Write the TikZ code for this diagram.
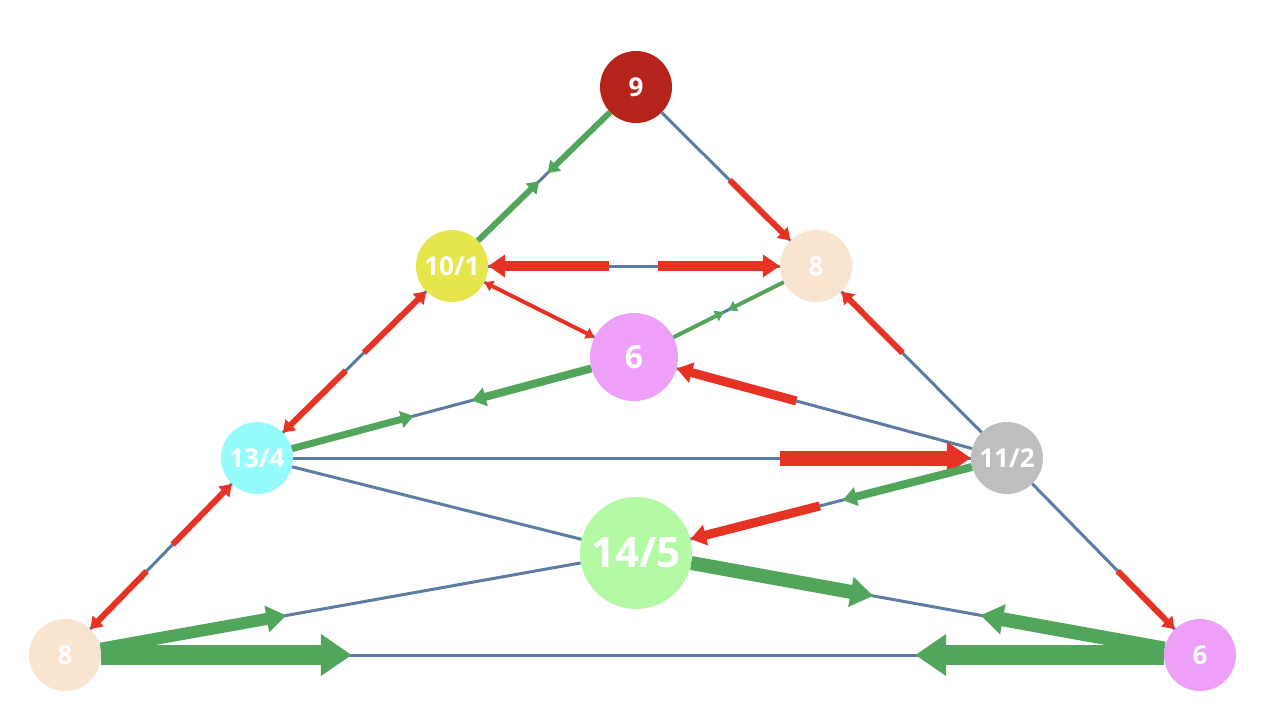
\documentclass[tikz,border=0pt]{standalone}
\usepackage{fontspec}
\setmainfont{Open Sans}
\usetikzlibrary{arrows.meta}

\definecolor{edgeblue}{HTML}{5D7CA4}
\definecolor{flowred}{HTML}{E63324}
\definecolor{flowgreen}{HTML}{52A65C}
\definecolor{nodedarkred}{HTML}{B5241A}
\definecolor{nodeyellow}{HTML}{E6E64C}
\definecolor{nodepeach}{HTML}{F9E5CF}
\definecolor{nodeviolet}{HTML}{EEA0F8}
\definecolor{nodecyan}{HTML}{96FBFB}
\definecolor{nodegrey}{HTML}{BEBEBE}
\definecolor{nodelime}{HTML}{B4F9A4}

\begin{document}
\begin{tikzpicture}[
    x=1pt, y=-1pt,
    vertex/.style={
        circle,
        inner sep=0pt,
        minimum size=72pt,
        text=white,
        font=\fontsize{26}{26}\selectfont\bfseries
    },
    base/.style={draw=edgeblue, line width=3pt},
    inflow/.style={draw=flowred, -{Triangle[length=3pt 1.4, width=4pt 1.8]}},
    outflow/.style={draw=flowgreen, -{Triangle[length=3pt 1.4, width=4pt 1.8]}}
]
\useasboundingbox (0,0) rectangle (1266,710);

% ------------------------
% Vertices
% ------------------------
\node[vertex, fill=nodedarkred] (n9) at (636,87) {9};
\node[vertex, fill=nodeyellow] (n101) at (452,266) {10/1};
\node[vertex, fill=nodepeach] (n8a) at (816,266) {8};
\node[vertex, fill=nodeviolet, minimum size=88pt,
      font=\fontsize{32}{32}\selectfont\bfseries] (n6a) at (634,357) {6};
\node[vertex, fill=nodecyan] (n134) at (257,458) {13/4};
\node[vertex, fill=nodegrey] (n112) at (1007,458) {11/2};
\node[vertex, fill=nodelime, minimum size=112pt,
      font=\fontsize{42}{42}\selectfont\bfseries] (n145) at (636,553) {14/5};
\node[vertex, fill=nodepeach] (n8b) at (65,655) {8};
\node[vertex, fill=nodeviolet] (n6b) at (1200,655) {6};

% ------------------------
% Edges
% ------------------------
\draw[base] (n9) -- (n101);
\draw[base] (n9) -- (n8a);
\draw[base] (n101) -- (n8a);
\draw[base] (n101) -- (n6a);
\draw[base] (n101) -- (n134);
\draw[base] (n8a) -- (n6a);
\draw[base] (n8a) -- (n112);
\draw[base] (n6a) -- (n134);
\draw[base] (n6a) -- (n112);
\draw[base] (n134) -- (n112);
\draw[base] (n134) -- (n145);
\draw[base] (n134) -- (n8b);
\draw[base] (n112) -- (n145);
\draw[base] (n112) -- (n6b);
\draw[base] (n145) -- (n8b);
\draw[base] (n145) -- (n6b);
\draw[base] (n8b) -- (n6b);

% ------------------------
% Incoming flows (red)
% ------------------------
\draw[inflow, line width=6pt, shorten <=96pt] (n9) -- (n8a);
\draw[inflow, line width=10pt, shorten <=170pt] (n101) -- (n8a);
\draw[inflow, line width=10pt, shorten <=171pt] (n8a) -- (n101);
\draw[inflow, line width=4pt, shorten <=61pt] (n101) -- (n6a);
\draw[inflow, line width=4pt, shorten <=62pt] (n6a) -- (n101);
\draw[inflow, line width=6pt, shorten <=114pt] (n134) -- (n101);
\draw[inflow, line width=6pt, shorten <=113pt] (n101) -- (n134);
\draw[inflow, line width=6pt, shorten <=112pt] (n112) -- (n8a);
\draw[inflow, line width=9pt, shorten <=182pt] (n112) -- (n6a);
\draw[inflow, line width=15pt, shorten <=487pt] (n134) -- (n112);
\draw[inflow, line width=6pt, shorten <=118pt] (n8b) -- (n134);
\draw[inflow, line width=6pt, shorten <=122pt] (n134) -- (n8b);
\draw[inflow, line width=9pt, shorten <=157pt] (n112) -- (n145);
\draw[inflow, line width=6pt, shorten <=122pt] (n112) -- (n6b);

% ------------------------
% Outgoing flows (green)
% ------------------------
\draw[outflow, line width=6pt, shorten >=97pt] (n9) -- (n101);
\draw[outflow, line width=6pt, shorten >=99pt] (n101) -- (n9);
\draw[outflow, line width=4pt, shorten >=61pt] (n8a) -- (n6a);
\draw[outflow, line width=4pt, shorten >=67pt] (n6a) -- (n8a);
\draw[outflow, line width=8pt, shorten >=186pt] (n6a) -- (n134);
\draw[outflow, line width=7pt, shorten >=184pt] (n134) -- (n6a);
\draw[outflow, line width=8pt, shorten >=157pt] (n112) -- (n145);
\draw[outflow, line width=12pt, shorten >=299pt] (n8b) -- (n145);
\draw[outflow, line width=14pt, shorten >=296pt] (n145) -- (n6b);
\draw[outflow, line width=14pt, shorten >=294pt] (n6b) -- (n145);
\draw[outflow, line width=20pt, shorten >=812pt] (n8b) -- (n6b);
\draw[outflow, line width=20pt, shorten >=814pt] (n6b) -- (n8b);

\end{tikzpicture}
\end{document}
